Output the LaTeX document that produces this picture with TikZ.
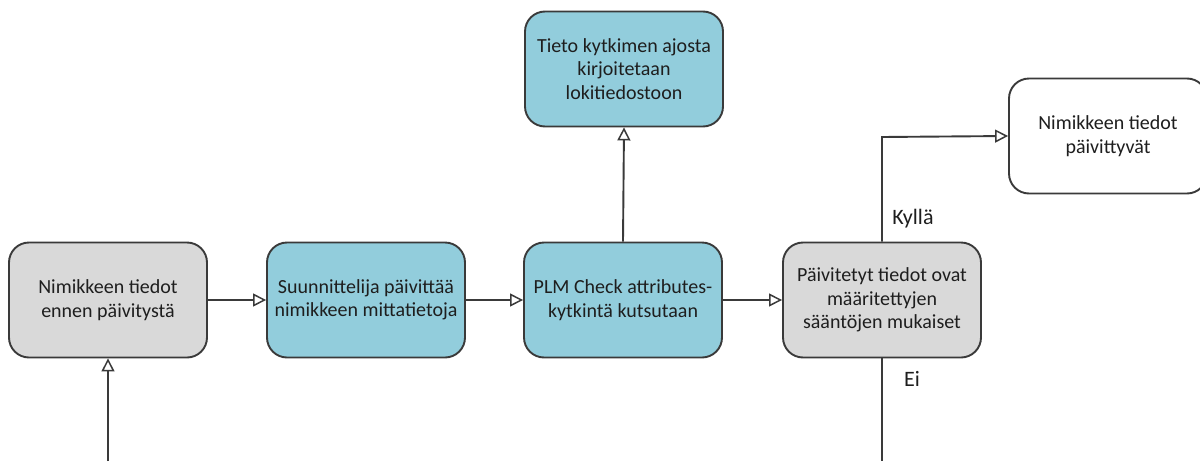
\documentclass[tikz,border=0pt]{standalone}
\usepackage{fontspec}
\setmainfont{Carlito}
\usetikzlibrary{arrows.meta}
\definecolor{boxblue}{HTML}{92CDDC}
\definecolor{boxgrey}{HTML}{D9D9D9}
\definecolor{edge}{HTML}{3A3A3A}
\definecolor{ink}{HTML}{1E1E1E}
\tikzset{
  box/.style={draw=edge, line width=1.9pt, rounded corners=20pt,
    minimum width=198pt, minimum height=115pt, align=center,
    text=ink, font=\fontsize{20}{23.5}\selectfont, inner sep=4pt},
  bluebox/.style={box, fill=boxblue},
  greybox/.style={box, fill=boxgrey},
  whitebox/.style={box, fill=white},
  flow/.style={draw=edge, line width=1.9pt,
    -{Triangle[length=13pt, width=13pt, fill=white, line width=1.5pt]}},
  plain/.style={draw=edge, line width=1.9pt},
  answer/.style={text=ink, font=\fontsize{22}{26}\selectfont}
}
\begin{document}
\begin{tikzpicture}[x=1pt, y=-1pt]
  \useasboundingbox (0,0) rectangle (1200,461);

  % process steps
  \node[greybox] (before) at (108,300) {Nimikkeen tiedot\\ennen päivitystä};
  \node[bluebox] (designer) at (366,300) {Suunnittelija päivittää\\nimikkeen mittatietoja};
  \node[bluebox] (plm) at (623,300) {PLM Check attributes-\\kytkintä kutsutaan};
  \node[greybox] (check) at (882,300) {Päivitetyt tiedot ovat\\määritettyjen\\sääntöjen mukaiset};
  \node[bluebox] (log) at (624,69) {Tieto kytkimen ajosta\\kirjoitetaan\\lokitiedostoon};
  \node[whitebox] (updated) at (1108,136) {Nimikkeen tiedot\\päivittyvät};

  % free ends and bends
  \coordinate (inflow) at (108,461);
  \coordinate (yesbend) at (882,137);
  \coordinate (noend) at (882,461);

  % connectors
  \draw[flow] (inflow) -- (before.south);
  \draw[flow] (before.east) -- (designer.west);
  \draw[flow] (designer.east) -- (plm.west);
  \draw[flow] (plm.east) -- (check.west);
  \draw[flow] (plm.north) -- (log.south);
  \draw[flow] (check.north) -- (yesbend) -- (updated.west);
  \draw[plain] (check.south) -- (noend);

  % decision labels
  \node[answer] (yes) at (913,219) {Kyllä};
  \node[answer] (no) at (912,379) {Ei};
\end{tikzpicture}
\end{document}
